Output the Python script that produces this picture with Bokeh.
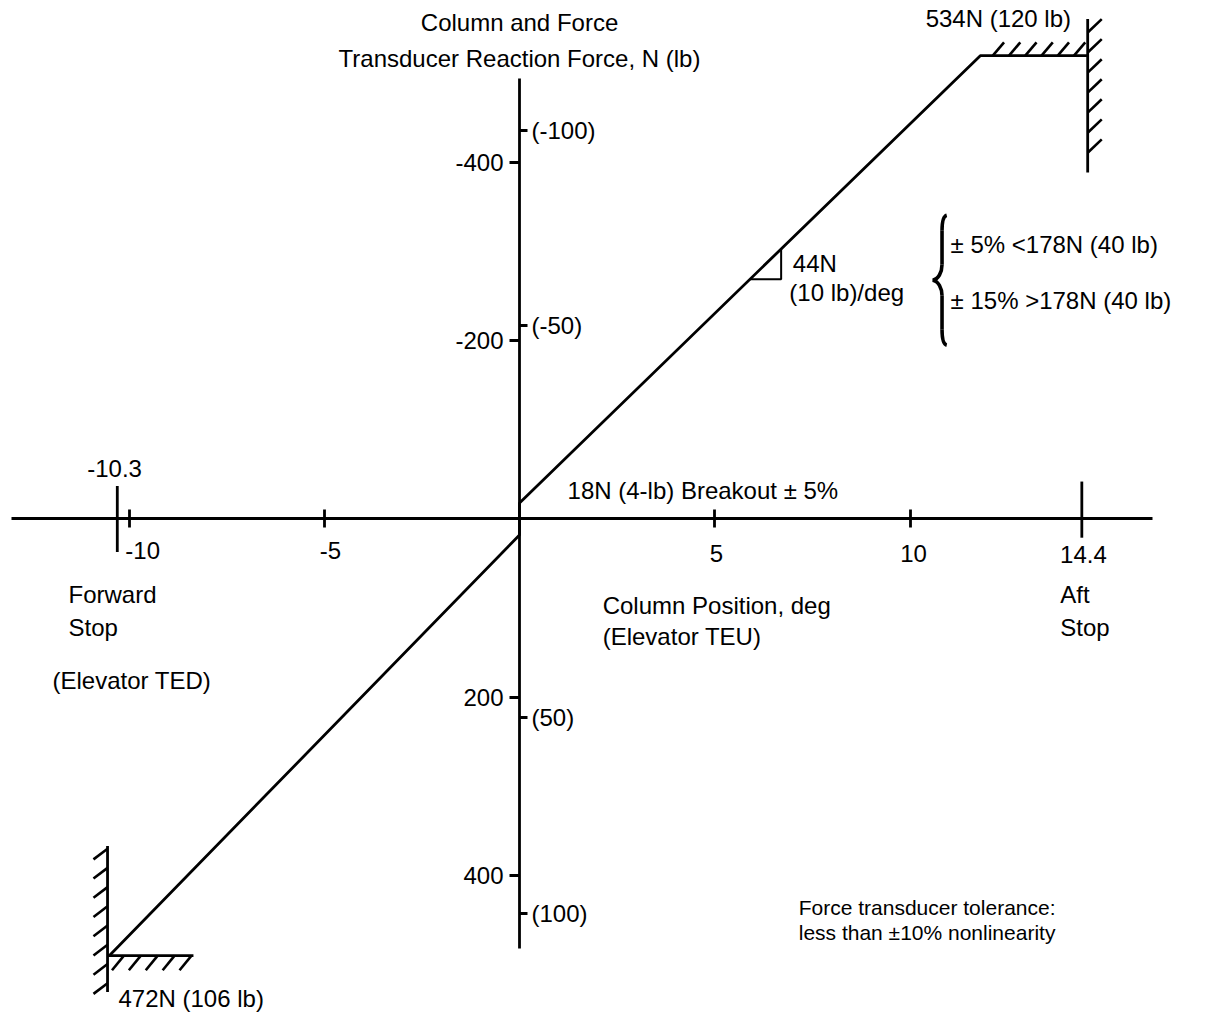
import numpy as np
from bokeh.plotting import figure
from bokeh.models import Range1d, LinearAxis, FixedTicker
from bokeh.core.properties import value
from bokeh.embed import file_html
from bokeh.resources import INLINE

# ---------------- data ----------------
x_ticks = [-10, -5, 5, 10]
x_tick_labels = ["-10", "-5", "5", "10"]
stop_positions = [-10.3, 14.4]
stop_labels = ["-10.3", "14.4"]
force_ticks_N = [-400, -200, 200, 400]
force_tick_labels_N = ["-400", "-200", "200", "400"]
force_ticks_lb = [-100, -50, 50, 100]
force_tick_labels_lb = ["(-100)", "(-50)", "(50)", "(100)"]

# column position (deg) vs reaction force (N, aft/pull negative, drawn upward)
curve_x = [-10.5, 0.0, 0.0, 11.8, 14.55]
curve_y = [490, 18, -18, -520, -520]

fwd_wall_x = -10.55
fwd_wall_y = [367, 531]
fwd_floor_x = [-10.55, -8.35]
fwd_floor_y = 490
aft_wall_x = 14.55
aft_wall_y = [-561, -389]
aft_ceiling_x = [11.8, 14.55]
aft_ceiling_y = -520

slope_tri_x = [5.9, 6.7]

FONT = value("Liberation Sans")
LW = 2.8

p = figure(width=1218, height=1013, output_backend="svg", toolbar_location=None,
           x_range=Range1d(-13.291, 17.900), y_range=Range1d(555.0, -581.9),
           min_border=0, min_border_left=0, min_border_right=0,
           min_border_top=0, min_border_bottom=0)
p.outline_line_color = None
p.xgrid.visible = False
p.ygrid.visible = False
p.background_fill_color = "white"
p.border_fill_color = "white"

# ---- x axis through y = 0 ----
xa = p.xaxis[0]
xa.fixed_location = 0
xa.ticker = FixedTicker(ticks=x_ticks)
xa.major_label_overrides = {t: "" for t in x_ticks}
xa.major_tick_in = 9
xa.major_tick_out = 9
xa.minor_tick_line_color = None
xa.axis_line_width = LW
xa.major_tick_line_width = LW
xa.axis_line_color = "black"
xa.major_tick_line_color = "black"
xa.bounds = (-13.0, 16.2)

# ---- y axis (N) through x = 0 ----
ya = p.yaxis[0]
ya.fixed_location = 0
ya.ticker = FixedTicker(ticks=force_ticks_N)
ya.major_label_overrides = {t: s for t, s in zip(force_ticks_N, force_tick_labels_N)}
ya.major_tick_in = 0
ya.major_tick_out = 10
ya.minor_tick_line_color = None
ya.axis_line_width = LW
ya.major_tick_line_width = LW
ya.axis_line_color = "black"
ya.major_tick_line_color = "black"
ya.bounds = (-494, 482)
ya.major_label_text_font = "Liberation Sans"
ya.major_label_text_font_size = "24px"
ya.major_label_text_color = "black"
ya.major_label_standoff = 6

# ---- secondary (lb) scale on the right side of the same axis ----
p.extra_y_ranges = {"lb": Range1d(125.6, -133.1)}
yb = LinearAxis(y_range_name="lb", fixed_location=0)
yb.ticker = FixedTicker(ticks=force_ticks_lb)
yb.major_label_overrides = {t: s for t, s in zip(force_ticks_lb, force_tick_labels_lb)}
yb.major_tick_in = 0
yb.major_tick_out = 8
yb.minor_tick_line_color = None
yb.axis_line_color = None
yb.major_tick_line_width = LW
yb.major_tick_line_color = "black"
yb.major_label_text_font = "Liberation Sans"
yb.major_label_text_font_size = "24px"
yb.major_label_text_color = "black"
yb.major_label_standoff = 4
p.add_layout(yb, "right")

# ---- stop ticks (long) ----
stop_up = [37, 42]
stop_down = [37, 21]
p.segment(x0=stop_positions, y0=[-h for h in stop_up], x1=stop_positions, y1=stop_down,
          line_width=LW, line_color="black")

# ---- force curve ----
p.line(curve_x, curve_y, line_width=LW, line_color="black")

# ---- stops with hatching ----
dx_h = 0.36   # hatch run (deg)
dy_h = 15.0   # hatch rise (N)
# forward (bottom-left) stop
p.line([fwd_wall_x, fwd_wall_x], fwd_wall_y, line_width=LW, line_color="black")
p.line(fwd_floor_x, [fwd_floor_y, fwd_floor_y], line_width=LW, line_color="black")
wy = np.linspace(fwd_wall_y[0] + 3, fwd_wall_y[1] - 10, 8)
p.segment(x0=[fwd_wall_x - dx_h] * len(wy), y0=wy + dy_h * 0.8, x1=[fwd_wall_x] * len(wy), y1=wy,
          line_width=2.6, line_color="black")
fx = np.linspace(fwd_floor_x[0] + 0.42, fwd_floor_x[1] - 0.05, 5)
p.segment(x0=fx - dx_h * 0.85, y0=[fwd_floor_y + dy_h * 1.1] * len(fx), x1=fx, y1=[fwd_floor_y] * len(fx),
          line_width=2.6, line_color="black")
# aft (top-right) stop
p.line([aft_wall_x, aft_wall_x], aft_wall_y, line_width=LW, line_color="black")
ay = np.linspace(aft_wall_y[0] + 15, aft_wall_y[1] - 22, 7)
p.segment(x0=[aft_wall_x] * len(ay), y0=ay, x1=[aft_wall_x + dx_h] * len(ay), y1=ay - dy_h,
          line_width=2.6, line_color="black")
cx = np.linspace(aft_ceiling_x[0] + 0.32, aft_ceiling_x[1] - 0.35, 6)
p.segment(x0=cx, y0=[aft_ceiling_y] * len(cx), x1=cx + dx_h * 0.8, y1=[aft_ceiling_y - dy_h] * len(cx),
          line_width=2.6, line_color="black")

# ---- slope triangle ----
up_x = curve_x[2:4]
up_y = curve_y[2:4]
ty = np.interp(slope_tri_x, up_x, up_y)
p.line([slope_tri_x[0], slope_tri_x[1], slope_tri_x[1]], [ty[0], ty[0], ty[1]],
       line_width=2.0, line_color="black")

# ---- brace ----
def brace(xc, y0, y1, w_tip, w_mid):
    ym = (y0 + y1) / 2
    r = (y1 - y0) * 0.12
    segs = [
        ((xc + w_tip, y0), (xc, y0 + r), (xc + w_tip * 0.3, y0 + r * 0.05), (xc, y0 + r * 0.4)),
        ((xc, ym - r), (xc - w_mid, ym), (xc, ym - r * 0.5), (xc - w_mid * 0.4, ym - r * 0.05)),
        ((xc - w_mid, ym), (xc, ym + r), (xc - w_mid * 0.4, ym + r * 0.05), (xc, ym + r * 0.5)),
        ((xc, y1 - r), (xc + w_tip, y1), (xc, y1 - r * 0.4), (xc + w_tip * 0.3, y1 - r * 0.05)),
    ]
    p.bezier(x0=[s[0][0] for s in segs], y0=[s[0][1] for s in segs],
             x1=[s[1][0] for s in segs], y1=[s[1][1] for s in segs],
             cx0=[s[2][0] for s in segs], cy0=[s[2][1] for s in segs],
             cx1=[s[3][0] for s in segs], cy1=[s[3][1] for s in segs],
             line_width=3.6, line_color="black")
    p.segment(x0=[xc, xc], y0=[y0 + r, ym + r], x1=[xc, xc], y1=[ym - r, y1 - r],
              line_width=3.6, line_color="black")

brace(10.82, -341, -195, 0.12, 0.24)

# ---- texts ----
def txt(x, y, s, align="left", size="24px"):
    p.text(x=[x], y=[y], text=[s], text_align=align, text_baseline="middle",
           text_font=FONT, text_font_size=size, text_color="black")

txt(0.0, -557, "Column and Force", "center")
txt(0.0, -517, "Transducer Reaction Force, N (lb)", "center")
txt(10.40, -562, "534N (120 lb)")
txt(7.00, -287, "44N")
txt(6.91, -254, "(10 lb)/deg")
txt(11.04, -308, "± 5% <178N (40 lb)")
txt(11.04, -245, "± 15% >178N (40 lb)")
txt(1.23, -32, "18N (4-lb) Breakout ± 5%")

# x tick labels
lab_x = [-9.65, -4.84, 5.04, 10.09]
lab_y = [35.4, 35.4, 38.7, 38.7]
for xv, yv, s in zip(lab_x, lab_y, x_tick_labels):
    txt(xv, yv, s, "center")
txt(-10.37, -57, stop_labels[0], "center")
txt(14.44, 39.5, stop_labels[1], "center")

txt(-11.55, 84.7, "Forward")
txt(-11.55, 121.7, "Stop")
txt(-11.96, 181.3, "(Elevator TED)")
txt(2.13, 97.1, "Column Position, deg")
txt(2.13, 131.9, "(Elevator TEU)")
txt(13.85, 84.7, "Aft")
txt(13.85, 121.7, "Stop")
txt(7.15, 436, "Force transducer tolerance:", size="21px")
txt(7.15, 464, "less than ±10% nonlinearity", size="21px")
txt(-10.27, 538, "472N (106 lb)")

open("out.html", "w").write(file_html(p, INLINE))
